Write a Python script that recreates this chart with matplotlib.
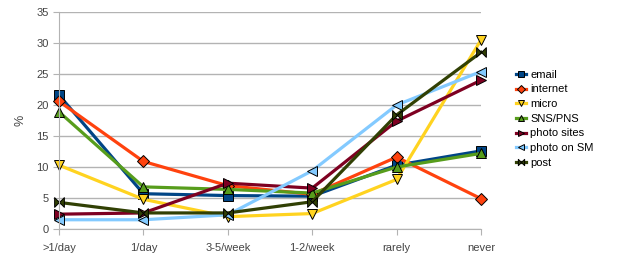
import matplotlib.pyplot as plt
from matplotlib.path import Path
import numpy as np

plt.rcParams['font.family'] = ['Liberation Sans', 'DejaVu Sans']

categories = ['>1/day', '1/day', '3-5/week', '1-2/week', 'rarely', 'never']

email = [21.6, 5.7, 5.4, 5.3, 10.3, 12.6]
internet = [20.6, 10.9, 7.0, 5.6, 11.6, 4.9]
micro = [10.3, 4.8, 2.0, 2.5, 8.0, 30.5]
sns = [18.9, 6.8, 6.4, 5.8, 10.0, 12.2]
photo_sites = [2.4, 2.6, 7.4, 6.6, 17.4, 24.0]
photo_sm = [1.5, 1.5, 2.3, 9.4, 20.0, 25.4]
post = [4.3, 2.6, 2.6, 4.4, 18.4, 28.5]

# bow-tie marker for "post"
bowtie = Path([(-1, 1), (0, 0), (-1, -1), (-1, 1), (1, 1), (0, 0), (1, -1), (1, 1)],
              [Path.MOVETO, Path.LINETO, Path.LINETO, Path.CLOSEPOLY,
               Path.MOVETO, Path.LINETO, Path.LINETO, Path.CLOSEPOLY])

series = [
    ('email', email, '#004586', 's'),
    ('internet', internet, '#ff420e', 'D'),
    ('micro', micro, '#ffd320', 'v'),
    ('SNS/PNS', sns, '#579d1c', '^'),
    ('photo sites', photo_sites, '#7e0021', '>'),
    ('photo on SM', photo_sm, '#83caff', '<'),
    ('post', post, '#314004', bowtie),
]

fig = plt.figure(figsize=(6.17, 2.79), dpi=100)
ax = fig.add_axes([0.0956, 0.179, 0.684, 0.778])

x = np.arange(len(categories))
for name, vals, col, mk in series:
    ms = 7 if mk != 'D' else 6
    ax.plot(x, vals, color=col, linewidth=2.3, marker=mk, markersize=ms,
            markeredgecolor='black', markeredgewidth=0.7, label=name,
            clip_on=False)

ax.set_xlim(0, 5)
ax.set_ylim(0, 35)
ax.set_yticks(range(0, 36, 5))
ax.set_xticks(x)
ax.set_xticklabels(categories)
ax.yaxis.grid(True, color='#b3b3b3', linewidth=1)
ax.set_axisbelow(True)
for s in ['top', 'right']:
    ax.spines[s].set_visible(False)
for s in ['left', 'bottom']:
    ax.spines[s].set_color('#b3b3b3')
ax.tick_params(colors='#b3b3b3', labelcolor='#444444', labelsize=8, length=4)
ax.tick_params(axis='x', pad=6)
ax.set_ylabel('%', color='#444444', fontsize=9, labelpad=7)

ax.legend(loc='upper left', bbox_to_anchor=(0.828, 0.77), bbox_transform=fig.transFigure,
          frameon=False, fontsize=8, handlelength=0.9, handletextpad=0.35,
          labelspacing=0.42, markerscale=0.65, borderpad=0)

plt.savefig('out.png', dpi=100)
